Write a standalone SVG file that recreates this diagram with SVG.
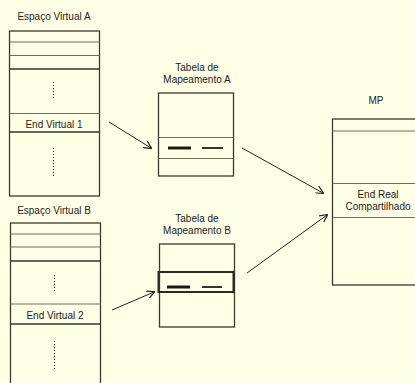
<svg xmlns="http://www.w3.org/2000/svg" width="415" height="383" viewBox="0 0 415 383">
<defs>
<marker id="ah" viewBox="0 0 10 10" refX="9" refY="5" markerWidth="8" markerHeight="8" markerUnits="userSpaceOnUse" orient="auto">
<path d="M0,0 L10,5 L0,10" fill="none" stroke="#222" stroke-width="1.5"/>
</marker>
<style>
text{font-family:"Liberation Sans",Arial,sans-serif;font-size:10px;fill:#222;text-anchor:middle}
.box{fill:none;stroke:#3a3a30;stroke-width:1.3}
.ln{stroke:#6e6e60;stroke-width:1.2}
.dk{stroke:#333;stroke-width:1.3}
.dot{stroke:#222;stroke-width:1;stroke-dasharray:1,2}
.thick{stroke:#1a1a10;stroke-width:3}
.thin{stroke:#333;stroke-width:2}
.conn{stroke:#222;stroke-width:1;fill:none;marker-end:url(#ah)}
</style>
</defs>
<rect width="415" height="383" fill="#ffffe6"/>
<g id="espaco-a">
<text x="54" y="20">Espaço Virtual A</text>
<rect class="box" x="9.5" y="31" width="90" height="165"/>
<line class="ln" x1="9.5" y1="42" x2="99.5" y2="42"/>
<line class="ln" x1="9.5" y1="55.5" x2="99.5" y2="55.5"/>
<line class="dk" x1="9.5" y1="69" x2="99.5" y2="69"/>
<line class="dot" x1="53.5" y1="82" x2="53.5" y2="100"/>
<line class="ln" x1="9.5" y1="113.5" x2="99.5" y2="113.5"/>
<text x="54" y="128">End Virtual 1</text>
<line class="dk" x1="9.5" y1="132" x2="99.5" y2="132"/>
<line class="dot" x1="53.5" y1="148" x2="53.5" y2="178"/>
</g>
<g id="espaco-b">
<text x="54" y="214">Espaço Virtual B</text>
<rect class="box" x="10.5" y="223" width="90" height="170"/>
<line class="ln" x1="10.5" y1="234" x2="100.5" y2="234"/>
<line class="ln" x1="10.5" y1="247" x2="100.5" y2="247"/>
<line class="dk" x1="10.5" y1="261" x2="100.5" y2="261"/>
<line class="dot" x1="54.5" y1="275" x2="54.5" y2="292"/>
<line class="ln" x1="10.5" y1="304" x2="100.5" y2="304"/>
<text x="55" y="319">End Virtual 2</text>
<line class="dk" x1="10.5" y1="324" x2="100.5" y2="324"/>
<line class="dot" x1="54.5" y1="341" x2="54.5" y2="371"/>
</g>
<g id="tabela-a">
<text x="197" y="71">Tabela de</text>
<text x="197" y="83">Mapeamento A</text>
<rect class="box" x="158.5" y="93" width="75" height="83"/>
<line class="ln" x1="158.5" y1="137.5" x2="233.5" y2="137.5"/>
<line class="ln" x1="158.5" y1="158.5" x2="233.5" y2="158.5"/>
<line class="thick" x1="168" y1="148" x2="191" y2="148"/>
<line class="thin" x1="202" y1="148" x2="223" y2="148"/>
</g>
<g id="tabela-b">
<text x="197" y="222">Tabela de</text>
<text x="197" y="234">Mapeamento B</text>
<rect class="box" x="159.5" y="244" width="75" height="83"/>
<rect x="158.5" y="272" width="75" height="20" fill="none" stroke="#2a2a20" stroke-width="2"/>
<line class="thick" x1="167" y1="287" x2="190" y2="287"/>
<line class="thin" x1="202" y1="287" x2="222" y2="287"/>
</g>
<g id="mp">
<text x="376" y="104">MP</text>
<rect class="box" x="332.5" y="119" width="100" height="166"/>
<line class="ln" x1="333" y1="131" x2="415" y2="131"/>
<line class="ln" x1="333" y1="183.5" x2="415" y2="183.5"/>
<text x="378" y="198">End Real</text>
<text x="378" y="210">Compartilhado</text>
<line class="ln" x1="333" y1="217.5" x2="415" y2="217.5"/>
</g>
<g id="connectors">
<line class="conn" x1="109" y1="122" x2="151" y2="148"/>
<line class="conn" x1="112" y1="310" x2="154" y2="292"/>
<line class="conn" x1="242" y1="148" x2="323" y2="193"/>
<line class="conn" x1="247" y1="273" x2="327" y2="215"/>
</g>
</svg>
